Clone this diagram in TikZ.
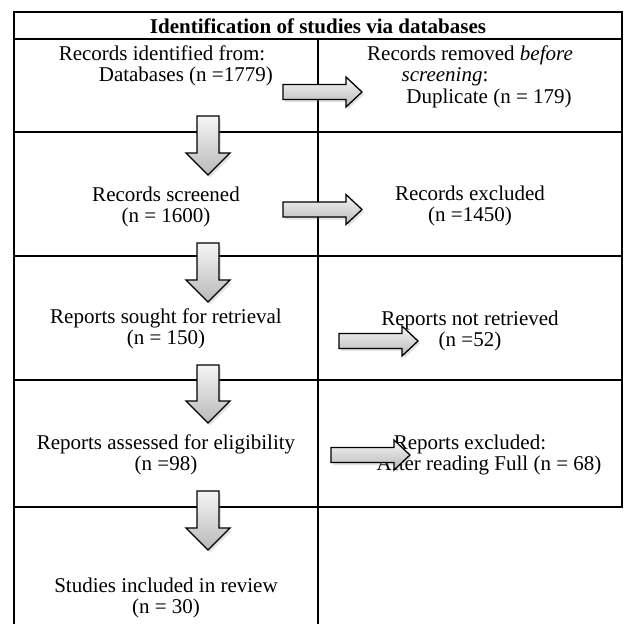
\documentclass[tikz,border=0pt]{standalone}
\usepackage{fontspec}
\setmainfont{Liberation Serif}
\usetikzlibrary{shadows}
\newcommand\rightblock[3]{%
  \path[blockarrow] (#1,#2-7.5) -- (#3-16,#2-7.5) -- (#3-16,#2-15) -- (#3,#2) -- (#3-16,#2+15) -- (#3-16,#2+7.5) -- (#1,#2+7.5) -- cycle;}
\newcommand\downblock[3]{%
  \path[blockarrow] (#1-11,#2) -- (#1+11,#2) -- (#1+11,#3-22) -- (#1+22,#3-22) -- (#1,#3) -- (#1-22,#3-22) -- (#1-11,#3-22) -- cycle;}
\begin{document}
\begin{tikzpicture}[x=1pt,y=-1pt,
  tbl/.style={line width=1.6pt, line cap=rect},
  txt/.style={inner sep=0pt, anchor=base, font=\fontsize{21}{25}\selectfont},
  blockarrow/.style={draw=black, line width=1.3pt, line join=miter, top color=gray!8, bottom color=gray!55,
    drop shadow={opacity=0.22, shadow xshift=2pt, shadow yshift=-2.5pt}}]
\useasboundingbox (0,0) rectangle (625,624);
% table
\draw[tbl] (14,624) -- (14,12) -- (622,12) -- (622,507);
\draw[tbl] (14,39) -- (622,39);
\draw[tbl] (14,132) -- (622,132);
\draw[tbl] (14,256) -- (622,256);
\draw[tbl] (14,380) -- (622,380);
\draw[tbl] (14,507) -- (622,507);
\draw[tbl] (318,39) -- (318,624);
% texts
\node[txt, font=\fontsize{21}{25}\selectfont\bfseries] (head) at (318,33) {Identification of studies via databases};
\node[txt] (r1a) at (162,60) {Records identified from:};
\node[txt, anchor=base east] (r1b) at (273,81) {Databases (n =1779)};
\node[txt] (q1a) at (470,60) {Records removed \textit{before}};
\node[txt] (q1b) at (445,81) {\textit{screening}:};
\node[txt] (q1c) at (489,103) {Duplicate (n = 179)};
\node[txt] (r2a) at (166,201) {Records screened};
\node[txt] (r2b) at (166,222) {(n = 1600)};
\node[txt] (q2a) at (470,200) {Records excluded};
\node[txt] (q2b) at (470,221) {(n =1450)};
\node[txt] (r3a) at (166,323) {Reports sought for retrieval};
\node[txt] (r3b) at (166,344) {(n = 150)};
\node[txt] (q3a) at (470,325) {Reports not retrieved};
\node[txt] (q3b) at (470,346) {(n =52)};
\node[txt] (r4a) at (166,449) {Reports assessed for eligibility};
\node[txt] (r4b) at (166,470) {(n =98)};
\node[txt] (q4a) at (470,449) {Reports excluded:};
\node[txt] (q4b) at (489,470) {After reading Full (n = 68)};
\node[txt] (r5a) at (166,592) {Studies included in review};
\node[txt] (r5b) at (166,613) {(n = 30)};
% arrows
\downblock{208}{116}{175}
\downblock{208}{243}{302}
\downblock{208}{365}{423}
\downblock{208}{491}{550}
\rightblock{283}{92}{362}
\rightblock{283}{209.5}{362}
\rightblock{339}{341}{418}
\rightblock{331}{455}{410}
\end{tikzpicture}
\end{document}
